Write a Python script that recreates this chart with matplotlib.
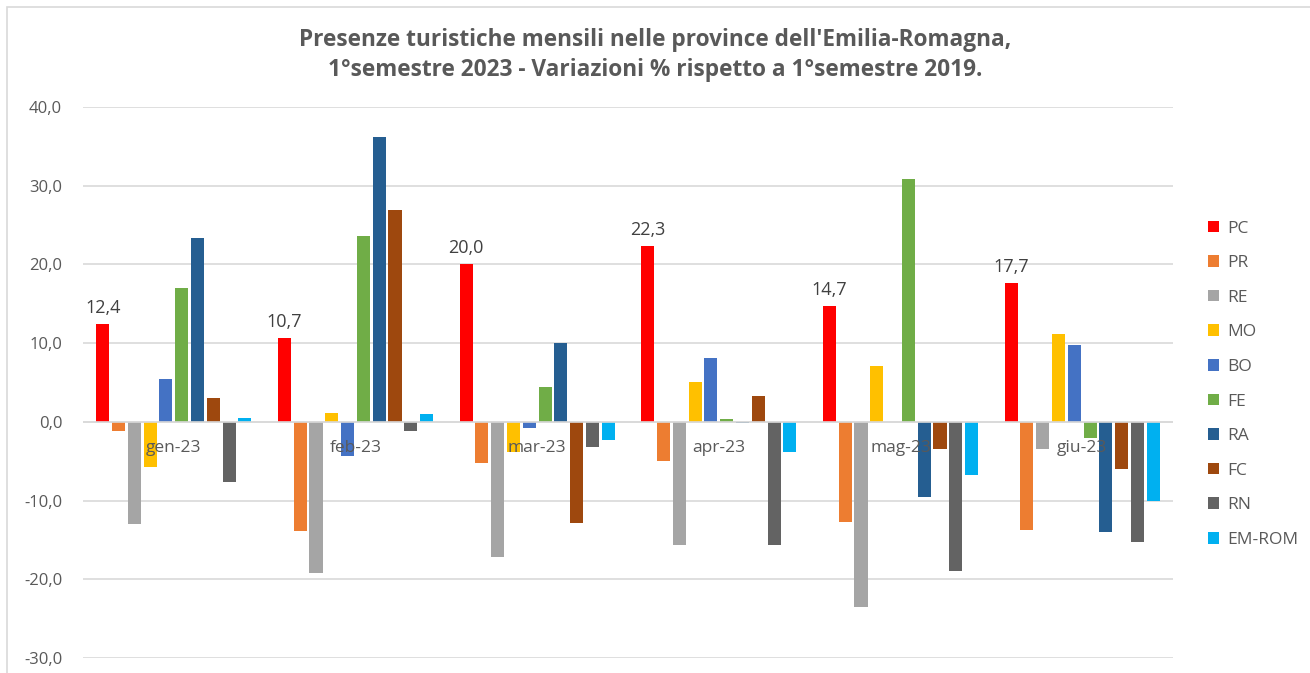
import matplotlib
matplotlib.use("Agg")
import matplotlib.pyplot as plt
from matplotlib.patches import Rectangle
import numpy as np

plt.rcParams['font.family'] = ['Open Sans', 'DejaVu Sans']

months = ["gen-23", "feb-23", "mar-23", "apr-23", "mag-23", "giu-23"]
provinces = ["PC", "PR", "RE", "MO", "BO", "FE", "RA", "FC", "RN", "EM-ROM"]
colors = ["#FF0000", "#ED7D31", "#A5A5A5", "#FFC000", "#4472C4",
          "#70AD47", "#255E91", "#9E480E", "#636363", "#00B0F0"]

pc = [12.4, 10.7, 20.0, 22.3, 14.7, 17.7]
pr = [-1.2, -13.9, -5.2, -5.0, -12.7, -13.8]
re_ = [-13.0, -19.2, -17.2, -15.7, -23.5, -3.5]
mo = [-5.7, 1.1, -3.8, 5.1, 7.1, 11.1]
bo = [5.5, -4.4, -0.8, 8.1, 0.0, 9.8]
fe = [17.0, 23.6, 4.4, 0.4, 30.8, -2.0]
ra = [23.4, 36.2, 10.0, -0.2, -9.6, -14.0]
fc = [3.0, 26.9, -12.8, 3.3, -3.5, -6.0]
rn = [-7.6, -1.2, -3.2, -15.7, -18.9, -15.3]
emrom = [0.5, 1.0, -2.3, -3.8, -6.8, -10.0]

series = [pc, pr, re_, mo, bo, fe, ra, fc, rn, emrom]

def fmt(v):
    return f"{v:.1f}".replace(".", ",")

fig = plt.figure(figsize=(13.1, 6.73), dpi=100)
ax = fig.add_axes([83 / 1310, 1 - 658 / 673, (1173 - 83) / 1310, (658 - 107) / 673])

# chart border (cropped screenshot: only top and left visible)
fig.patches.append(Rectangle((7 / 1310, -0.1), 1.2, 1.1 - 7 / 673, transform=fig.transFigure,
                             fill=False, edgecolor="#d9d9d9", linewidth=1.2))

x = np.arange(len(months))
slot = 0.087
width = 0.072
for j, (name, vals, c) in enumerate(zip(provinces, series, colors)):
    pos = x + (j - 4.5) * slot
    bars = ax.bar(pos, vals, width, color=c, label=name, zorder=3)
    if name == "PC":
        for b, v in zip(bars, vals):
            ax.annotate(fmt(v), (b.get_x() + b.get_width() / 2, v), xytext=(0, 5),
                        textcoords="offset points", ha="center", va="bottom",
                        fontsize=13, color="#404040")

ax.set_xlim(-0.5, len(months) - 0.5)
ax.set_ylim(-30, 40)
ax.set_yticks(range(-30, 41, 10))
ax.set_yticklabels([fmt(t) for t in range(-30, 41, 10)], fontsize=12, color="#595959")
ax.set_xticks([])
ax.tick_params(axis="y", length=0, pad=15)
ax.grid(axis="y", color="#d9d9d9", linewidth=1.2, zorder=0)
ax.axhline(0, color="#d9d9d9", linewidth=1.2, zorder=4)
for s in ax.spines.values():
    s.set_visible(False)

for i, m in enumerate(months):
    ax.annotate(m, (i, 0), xytext=(0, -13), textcoords="offset points",
                ha="center", va="top", fontsize=12.5, color="#595959", zorder=5)

fig.text(0.5, 1 - 28 / 673, "Presenze turistiche mensili nelle province dell'Emilia-Romagna,\n"
         "1°semestre 2023 - Variazioni % rispetto a 1°semestre 2019.",
         ha="center", va="top", fontsize=16.3, fontweight="bold", color="#595959",
         linespacing=1.35)

leg = fig.legend(loc="upper left", bbox_to_anchor=(1192 / 1310, 1 - 205 / 673), frameon=False,
                 fontsize=12.5, labelcolor="#595959", handlelength=0.65, handleheight=0.65,
                 handletextpad=0.5, labelspacing=1.07)

fig.savefig("out.png", dpi=100)
